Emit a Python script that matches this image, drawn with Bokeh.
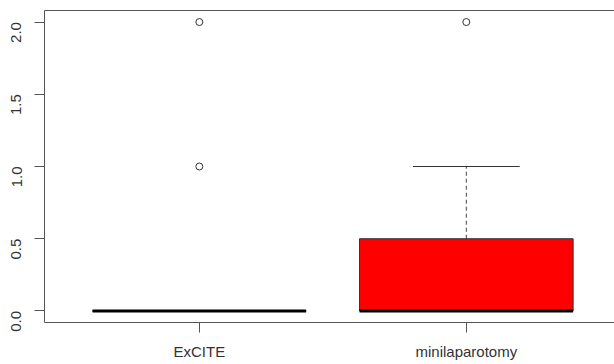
import math
from bokeh.plotting import figure
from bokeh.models import Range1d, FixedTicker, PrintfTickFormatter, LinearAxis
from bokeh.embed import file_html
from bokeh.resources import INLINE

# ---- data (box-plot statistics) ----
categories = ["ExCITE", "minilaparotomy"]
lower_whisker = [0.0, 0.0]
q1 = [0.0, 0.0]
median = [0.0, 0.0]
q3 = [0.0, 0.5]
upper_whisker = [0.0, 1.0]
box_colors = ["white", "#ff0000"]
outlier_group = ["ExCITE", "ExCITE", "minilaparotomy"]
outlier_values = [1.0, 2.0, 2.0]
y_ticks = [0.0, 0.5, 1.0, 1.5, 2.0]

pos = [i + 1 for i in range(len(categories))]
pos_of = {c: i + 1 for i, c in enumerate(categories)}
half_box = 0.4
half_cap = 0.2

p = figure(width=614, height=364, output_backend="svg", toolbar_location=None,
           x_range=Range1d(0.42, 2.555), y_range=Range1d(-0.08, 2.08),
           min_border_left=44, min_border_right=0, min_border_top=10, min_border_bottom=42)
p.outline_line_color = None
p.xgrid.visible = False
p.ygrid.visible = False
p.background_fill_color = "white"
p.border_fill_color = "white"

axis_col = "#555555"
text_col = "#333333"
font = "Liberation Sans"

# x axis
p.xaxis.ticker = FixedTicker(ticks=pos)
p.xaxis.major_label_overrides = {pv: c for pv, c in zip(pos, categories)}
p.xaxis.minor_tick_line_color = None
p.xaxis.major_tick_in = 0
p.xaxis.major_tick_out = 10
p.xaxis.major_label_standoff = 10
p.xaxis.axis_line_color = axis_col
p.xaxis.major_tick_line_color = axis_col
p.xaxis.major_label_text_color = text_col
p.xaxis.major_label_text_font = font
p.xaxis.major_label_text_font_size = "15px"

# y axis
p.yaxis.ticker = FixedTicker(ticks=y_ticks)
p.yaxis.formatter = PrintfTickFormatter(format="%.1f")
p.yaxis.minor_tick_line_color = None
p.yaxis.major_tick_in = 0
p.yaxis.major_tick_out = 10
p.yaxis.major_label_standoff = 18
p.yaxis.major_label_orientation = math.pi / 2
p.yaxis.axis_line_color = axis_col
p.yaxis.major_tick_line_color = axis_col
p.yaxis.major_label_text_color = text_col
p.yaxis.major_label_text_font = font
p.yaxis.major_label_text_font_size = "15px"

# top frame line (axis without ticks or labels)
top = LinearAxis(ticker=FixedTicker(ticks=[]), axis_line_color=axis_col,
                 major_tick_line_color=None, minor_tick_line_color=None,
                 major_label_text_font_size="0px", major_label_standoff=0,
                 major_tick_out=0, major_tick_in=0)
p.add_layout(top, "above")

# boxes
p.vbar(x=pos, top=q3, bottom=q1, width=2 * half_box, fill_color=box_colors,
       line_color="#333333", line_width=1)

# whiskers (dashed)
p.segment(x0=pos, x1=pos, y0=q3, y1=upper_whisker, line_color="#444444",
          line_width=1, line_dash="4 3")
p.segment(x0=pos, x1=pos, y0=lower_whisker, y1=q1, line_color="#444444",
          line_width=1, line_dash="4 3")
# whisker caps
p.segment(x0=[x - half_cap for x in pos], x1=[x + half_cap for x in pos],
          y0=upper_whisker, y1=upper_whisker, line_color="#333333", line_width=1)
p.segment(x0=[x - half_cap for x in pos], x1=[x + half_cap for x in pos],
          y0=lower_whisker, y1=lower_whisker, line_color="#333333", line_width=1)

# medians
p.segment(x0=[x - half_box for x in pos], x1=[x + half_box for x in pos],
          y0=median, y1=median, line_color="black", line_width=3)

# outliers
p.scatter(x=[pos_of[g] for g in outlier_group], y=outlier_values, marker="circle",
          size=7, fill_color=None, line_color="#333333", line_width=1)

open("out.html", "w").write(file_html(p, INLINE))
